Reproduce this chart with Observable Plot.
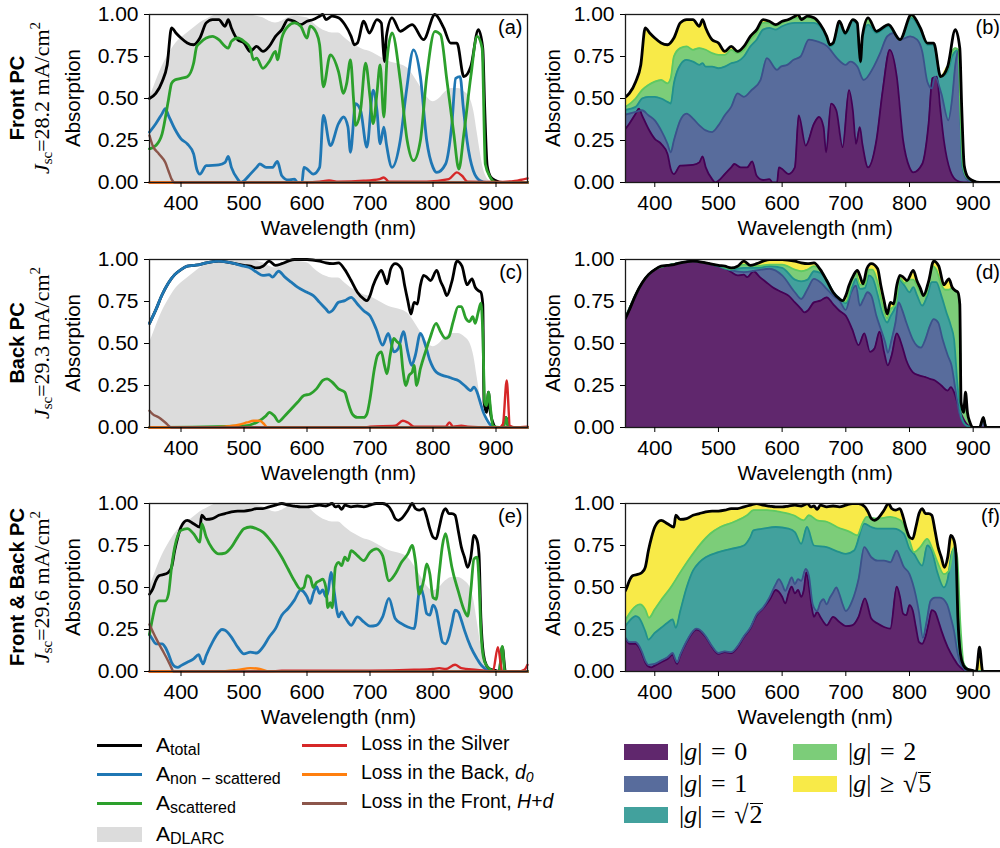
<!DOCTYPE html>
<html><head><meta charset="utf-8">
<script src="https://cdn.jsdelivr.net/npm/d3@7"></script>
<script src="https://cdn.jsdelivr.net/npm/@observablehq/plot@0.6"></script>
<style>
html,body{margin:0;padding:0;background:#fff;overflow:hidden;width:1000px;height:848px;}
#root{position:relative;width:1000px;height:848px;overflow:hidden;font-family:"Liberation Sans",Arial,sans-serif;color:#000;}
.rot{position:absolute;transform:translate(-50%,-50%) rotate(-90deg);white-space:nowrap;line-height:1;}
.serif{font-family:"Liberation Serif","DejaVu Serif",serif;}
.lg{position:absolute;white-space:nowrap;line-height:1;}
.sw{position:absolute;}
.sq{display:inline-block;line-height:0.72em;border-top:1.6px solid #000;padding-top:2px;margin-left:1px;}
.holder svg{max-width:none !important;}
</style></head><body><div id="root"></div><script>
// ---------------- data (wavelength nm, absorption) ----------------
const dlarc = [[350,0.50],[360,0.60],[370,0.69],[380,0.76],[390,0.82],[400,0.86],[410,0.89],[420,0.92],[430,0.95],[440,0.97],[450,0.99],[460,1.0],[500,1.0],[520,0.99],[530,0.98],[540,0.96],[550,0.95],[560,0.96],[570,0.98],[580,0.99],[600,0.98],[610,0.95],[620,0.92],[630,0.90],[640,0.89],[650,0.89],[660,0.86],[670,0.83],[680,0.81],[690,0.79],[700,0.78],[710,0.76],[720,0.74],[730,0.72],[740,0.71],[750,0.70],[760,0.68],[770,0.63],[780,0.57],[790,0.51],[800,0.48],[810,0.50],[820,0.54],[830,0.56],[840,0.56],[850,0.54],[860,0.49],[865,0.42],[870,0.30],[875,0.18],[880,0.08],[885,0.03],[890,0.01],[900,0]];

// Front PC
const aTotal = [[350,0.50],[360,0.53],[370,0.60],[378,0.70],[385,0.92],[392,0.89],[400,0.86],[410,0.83],[420,0.82],[430,0.86],[440,0.95],[450,0.97],[460,0.97],[470,0.93],[475,0.97],[480,0.92],[490,0.85],[500,0.83],[510,0.78],[520,0.81],[530,0.78],[540,0.81],[550,0.87],[560,0.91],[570,0.97],[580,0.96],[590,0.94],[600,0.96],[610,0.97],[620,0.99],[625,1.0],[630,0.97],[640,0.99],[650,0.98],[660,0.94],[670,0.87],[675,0.82],[680,0.83],[690,0.96],[699,0.89],[711,0.97],[718,0.95],[721,0.80],[723,0.72],[726,0.87],[735,0.98],[748,0.90],[767,0.94],[785,0.85],[803,1.0],[817,0.92],[828,0.83],[838,0.83],[849,0.63],[860,0.69],[872,0.91],[879,0.80],[882,0.45],[886,0.10],[892,0.03],[900,0.01],[910,0],[950,0]];
const aNonScat = [[350,0.30],[360,0.35],[370,0.41],[375,0.44],[380,0.40],[390,0.32],[400,0.26],[410,0.23],[420,0.17],[425,0.08],[430,0.05],[440,0.10],[460,0.105],[470,0.12],[475,0.155],[480,0.09],[490,0.02],[495,0.0],[500,0.01],[510,0.05],[520,0.09],[525,0.11],[535,0.09],[545,0.09],[553,0.125],[560,0.04],[570,0.015],[580,0.02],[585,0],[592,0],[595,0.09],[600,0.08],[610,0.05],[620,0.09],[626,0.40],[637,0.22],[650,0.35],[658,0.39],[665,0.33],[669,0.18],[677,0.47],[685,0.43],[695,0.21],[705,0.55],[711,0.43],[716,0.23],[722,0.33],[726,0.23],[735,0.09],[748,0.25],[758,0.55],[769,0.79],[780,0.63],[790,0.25],[800,0.09],[806,0.06],[820,0.11],[830,0.35],[836,0.62],[843,0.63],[848,0.45],[854,0.25],[864,0.07],[875,0.01],[885,0],[950,0]];
const aScat = [[350,0.20],[360,0.22],[370,0.29],[380,0.49],[385,0.59],[390,0.61],[400,0.62],[410,0.63],[420,0.71],[425,0.81],[430,0.83],[440,0.86],[450,0.87],[460,0.85],[470,0.81],[475,0.80],[480,0.84],[490,0.86],[500,0.84],[510,0.80],[515,0.73],[520,0.74],[530,0.68],[540,0.72],[550,0.78],[553,0.73],[560,0.86],[570,0.93],[580,0.95],[590,0.93],[600,0.86],[605,0.93],[615,0.89],[620,0.82],[626,0.57],[637,0.76],[650,0.66],[658,0.53],[663,0.59],[669,0.73],[674,0.49],[677,0.34],[685,0.43],[693,0.71],[700,0.51],[705,0.35],[711,0.53],[716,0.70],[722,0.39],[727,0.73],[735,0.89],[748,0.61],[759,0.25],[769,0.13],[780,0.25],[790,0.63],[803,0.90],[812,0.88],[822,0.61],[833,0.29],[841,0.08],[849,0.29],[860,0.63],[870,0.87],[878,0.80],[883,0.11],[891,0.03],[900,0],[950,0]];
const aSilver = [[350,0],[600,0],[620,0.005],[635,0.012],[650,0.005],[690,0.01],[715,0.02],[722,0.03],[730,0.005],[790,0.005],[825,0.02],[838,0.06],[846,0.04],[855,0.005],[900,0.003],[930,0.01],[950,0.025]];
const aBack = [[350,0],[950,0]];
const aFront = [[350,0.28],[355,0.22],[365,0.17],[375,0.12],[380,0.07],[385,0.02],[390,0],[950,0]];
const bG1 = [[350,0.40],[370,0.42],[380,0.43],[390,0.40],[400,0.37],[410,0.31],[420,0.23],[425,0.18],[430,0.25],[440,0.37],[450,0.41],[460,0.38],[470,0.34],[480,0.31],[490,0.30],[500,0.34],[510,0.40],[520,0.45],[530,0.53],[540,0.51],[552,0.55],[566,0.61],[576,0.74],[592,0.67],[598,0.69],[608,0.70],[618,0.73],[629,0.75],[642,0.85],[655,0.84],[671,0.81],[686,0.74],[700,0.70],[707,0.72],[718,0.69],[728,0.61],[744,0.69],[754,0.77],[765,0.87],[775,0.89],[786,0.85],[801,0.87],[812,0.85],[820,0.78],[828,0.60],[835,0.56],[840,0.63],[850,0.53],[861,0.37],[867,0.50],[872,0.70],[877,0.79],[880,0.40],[883,0.10],[890,0.02],[900,0],[950,0]];
const bG2 = [[350,0.43],[370,0.45],[380,0.50],[390,0.51],[400,0.51],[410,0.50],[420,0.48],[425,0.47],[430,0.59],[440,0.70],[450,0.73],[460,0.72],[470,0.70],[475,0.71],[480,0.69],[490,0.69],[500,0.68],[510,0.69],[520,0.71],[530,0.72],[540,0.75],[550,0.81],[560,0.85],[570,0.91],[580,0.92],[590,0.91],[600,0.93],[620,0.95],[640,0.95],[650,0.95],[660,0.93],[670,0.86],[675,0.81],[680,0.82],[690,0.95],[699,0.88],[711,0.96],[718,0.94],[721,0.79],[723,0.71],[726,0.86],[735,0.94],[748,0.89],[767,0.93],[785,0.85],[803,0.98],[817,0.91],[828,0.82],[838,0.82],[849,0.63],[860,0.66],[867,0.75],[872,0.78],[877,0.79],[880,0.40],[883,0.10],[890,0.03],[900,0.01],[910,0],[950,0]];
const bG3 = [[350,0.44],[370,0.50],[380,0.55],[390,0.58],[400,0.60],[410,0.61],[420,0.59],[425,0.62],[430,0.75],[440,0.80],[450,0.81],[460,0.79],[470,0.80],[480,0.79],[490,0.77],[500,0.76],[510,0.76],[520,0.79],[530,0.77],[540,0.79],[550,0.85],[560,0.89],[570,0.95],[580,0.95],[590,0.93],[600,0.95],[610,0.97],[620,0.98],[640,0.98],[650,0.97],[660,0.94],[670,0.87],[675,0.82],[680,0.83],[690,0.96],[699,0.89],[711,0.97],[718,0.95],[721,0.80],[723,0.72],[726,0.87],[735,0.97],[748,0.90],[767,0.94],[785,0.85],[803,0.99],[817,0.92],[828,0.83],[838,0.83],[849,0.63],[860,0.68],[867,0.78],[872,0.80],[877,0.79],[880,0.42],[884,0.11],[890,0.03],[900,0.01],[910,0],[950,0]];
const bTop = aTotal.filter(([w]) => w < 861 || w > 881);

// Back PC
const cTotal = [[350,0.62],[360,0.70],[370,0.79],[380,0.86],[390,0.91],[400,0.94],[410,0.96],[420,0.965],[430,0.97],[440,0.98],[460,0.99],[480,0.98],[500,0.965],[510,0.96],[520,0.95],[530,0.96],[540,0.99],[550,0.965],[560,0.975],[570,0.99],[580,1.0],[600,1.0],[620,0.99],[630,0.98],[640,0.975],[650,0.98],[660,0.94],[670,0.875],[680,0.805],[690,0.765],[695,0.755],[700,0.785],[705,0.845],[712,0.905],[718,0.935],[722,0.905],[727,0.855],[733,0.945],[740,0.975],[750,0.945],[755,0.845],[760,0.755],[765,0.675],[770,0.745],[775,0.735],[780,0.845],[785,0.905],[790,0.895],[796,0.875],[806,0.935],[812,0.87],[817,0.83],[822,0.785],[830,0.87],[838,0.99],[846,0.96],[854,0.85],[862,0.885],[867,0.835],[872,0.815],[876,0.805],[879,0.735],[881,0.15],[885,0.09],[888,0.21],[891,0.09],[895,0.03],[900,0],[910,0],[916,0.06],[920,0],[950,0]];
const cNonScat = [[350,0.62],[360,0.70],[370,0.79],[380,0.86],[390,0.91],[400,0.94],[410,0.96],[420,0.965],[430,0.97],[440,0.98],[460,0.99],[480,0.98],[500,0.96],[510,0.95],[520,0.925],[530,0.905],[540,0.91],[545,0.895],[555,0.93],[565,0.895],[575,0.865],[585,0.835],[600,0.805],[610,0.785],[620,0.745],[630,0.705],[635,0.685],[640,0.695],[650,0.745],[660,0.755],[670,0.775],[680,0.735],[690,0.695],[700,0.665],[710,0.585],[720,0.49],[729,0.56],[738,0.45],[745,0.47],[753,0.57],[760,0.45],[766,0.37],[772,0.43],[780,0.56],[788,0.49],[795,0.40],[805,0.33],[815,0.31],[825,0.30],[832,0.29],[840,0.28],[850,0.25],[860,0.22],[865,0.24],[870,0.21],[875,0.15],[880,0.09],[885,0.05],[890,0.02],[895,0.005],[900,0],[950,0]];
const cScat = [[350,0],[500,0.01],[520,0.03],[535,0.07],[540,0.09],[548,0.07],[555,0.035],[565,0.07],[575,0.11],[585,0.15],[595,0.19],[605,0.20],[615,0.23],[625,0.28],[632,0.29],[640,0.27],[650,0.23],[660,0.21],[665,0.15],[672,0.08],[680,0.06],[690,0.06],[695,0.08],[700,0.17],[707,0.35],[712,0.43],[718,0.45],[723,0.37],[727,0.32],[732,0.43],[738,0.53],[743,0.51],[748,0.49],[752,0.35],[757,0.25],[762,0.31],[767,0.33],[770,0.37],[774,0.25],[780,0.35],[788,0.45],[795,0.53],[805,0.62],[812,0.57],[820,0.53],[825,0.54],[832,0.63],[840,0.72],[845,0.72],[852,0.65],[858,0.63],[863,0.66],[867,0.62],[872,0.69],[876,0.74],[879,0.57],[882,0.15],[885,0.13],[888,0.21],[892,0.09],[895,0.01],[905,0],[912,0],[916,0.06],[920,0],[950,0]];
const cSilver = [[350,0],[690,0],[700,0.005],[740,0.01],[752,0.04],[760,0.03],[770,0.005],[820,0.005],[826,0.03],[832,0.005],[845,0.01],[855,0.005],[905,0],[911,0.02],[917,0.28],[922,0.01],[930,0],[950,0.005]];
const cBack = [[350,0],[450,0],[470,0.005],[490,0.015],[505,0.03],[515,0.04],[525,0.04],[532,0.02],[537,0],[950,0]];
const cFront = [[350,0.10],[355,0.08],[365,0.06],[375,0.03],[385,0],[950,0]];
const dG1 = [[350,0.62],[370,0.79],[380,0.86],[400,0.94],[420,0.965],[440,0.98],[460,0.99],[480,0.98],[500,0.96],[520,0.935],[540,0.925],[560,0.935],[580,0.945],[600,0.905],[620,0.805],[630,0.765],[640,0.825],[650,0.885],[660,0.865],[670,0.825],[680,0.785],[690,0.755],[700,0.70],[708,0.80],[716,0.845],[722,0.725],[728,0.765],[734,0.805],[740,0.785],[748,0.665],[755,0.585],[762,0.505],[766,0.445],[772,0.525],[778,0.625],[783,0.745],[788,0.705],[795,0.625],[805,0.525],[812,0.485],[818,0.475],[825,0.525],[832,0.605],[838,0.645],[845,0.625],[852,0.525],[860,0.43],[866,0.37],[872,0.23],[878,0.09],[884,0.03],[890,0.01],[900,0],[910,0],[916,0.055],[921,0],[950,0]];
const dG2 = [[350,0.62],[370,0.79],[380,0.86],[400,0.94],[420,0.965],[440,0.98],[460,0.99],[480,0.98],[500,0.96],[520,0.94],[540,0.95],[560,0.95],[580,0.96],[600,0.95],[620,0.88],[630,0.87],[640,0.88],[650,0.93],[660,0.92],[670,0.88],[680,0.81],[690,0.77],[700,0.74],[710,0.835],[716,0.885],[722,0.825],[730,0.83],[736,0.905],[742,0.89],[750,0.79],[757,0.685],[765,0.625],[770,0.66],[778,0.725],[785,0.875],[792,0.845],[800,0.805],[806,0.835],[812,0.785],[820,0.725],[828,0.785],[835,0.865],[842,0.865],[850,0.785],[858,0.685],[865,0.605],[870,0.525],[875,0.27],[880,0.09],[885,0.03],[890,0.01],[900,0],[910,0],[916,0.055],[921,0],[950,0]];
const dG3 = [[350,0.62],[370,0.79],[380,0.86],[400,0.94],[420,0.965],[440,0.98],[460,0.99],[480,0.98],[500,0.965],[520,0.945],[540,0.97],[560,0.96],[580,0.97],[600,0.97],[620,0.94],[630,0.93],[640,0.94],[650,0.96],[660,0.94],[670,0.875],[680,0.805],[690,0.765],[700,0.75],[710,0.88],[716,0.92],[722,0.85],[730,0.85],[736,0.94],[742,0.94],[750,0.86],[757,0.74],[765,0.65],[770,0.70],[778,0.73],[785,0.89],[792,0.86],[800,0.88],[806,0.88],[812,0.84],[818,0.80],[825,0.78],[830,0.85],[836,0.96],[842,0.94],[850,0.85],[856,0.82],[862,0.82],[867,0.83],[872,0.81],[876,0.80],[879,0.73],[881,0.15],[885,0.09],[888,0.2],[891,0.08],[895,0.02],[900,0],[910,0],[916,0.055],[921,0],[950,0]];

// Front & Back PC
const eTotal = [[350,0.46],[355,0.49],[360,0.54],[365,0.57],[375,0.58],[380,0.59],[385,0.62],[390,0.72],[395,0.80],[400,0.86],[405,0.89],[410,0.90],[420,0.88],[430,0.86],[433,0.93],[440,0.905],[450,0.91],[460,0.93],[470,0.94],[480,0.95],[490,0.955],[500,0.955],[510,0.96],[520,0.97],[530,0.97],[540,0.98],[550,0.99],[560,1.0],[570,0.99],[580,0.985],[590,0.98],[600,0.98],[610,0.985],[620,0.99],[630,0.985],[640,1.0],[645,0.98],[650,0.985],[655,0.965],[660,0.99],[670,0.98],[680,0.985],[690,0.98],[700,0.99],[710,1.0],[720,1.0],[730,0.98],[735,0.95],[740,0.91],[745,0.90],[750,0.91],[760,0.96],[767,1.0],[772,0.97],[778,0.96],[785,0.97],[790,0.92],[795,0.85],[800,0.80],[805,0.79],[810,0.86],[815,0.94],[820,0.97],[825,0.94],[830,0.94],[835,0.93],[840,0.84],[845,0.74],[850,0.68],[855,0.62],[860,0.68],[865,0.81],[870,0.78],[873,0.70],[876,0.32],[880,0.105],[885,0.035],[890,0.015],[900,0.005],[905,0],[910,0.145],[915,0],[950,0]];
const eNonScat = [[350,0.22],[355,0.19],[360,0.165],[370,0.165],[375,0.145],[380,0.105],[385,0.055],[390,0.03],[395,0.025],[400,0.035],[410,0.055],[420,0.075],[428,0.10],[432,0.065],[435,0.045],[440,0.095],[450,0.175],[460,0.235],[465,0.25],[470,0.245],[480,0.205],[490,0.145],[500,0.105],[510,0.115],[520,0.11],[530,0.145],[540,0.205],[550,0.255],[560,0.335],[570,0.375],[580,0.425],[590,0.485],[600,0.445],[605,0.405],[610,0.465],[615,0.505],[620,0.465],[625,0.485],[630,0.445],[634,0.485],[638,0.59],[643,0.48],[647,0.37],[650,0.325],[655,0.355],[660,0.325],[665,0.295],[670,0.275],[680,0.325],[690,0.295],[700,0.27],[710,0.275],[720,0.325],[730,0.435],[740,0.315],[750,0.285],[760,0.265],[770,0.255],[780,0.505],[785,0.445],[790,0.345],[795,0.335],[800,0.395],[805,0.365],[810,0.265],[815,0.175],[820,0.165],[825,0.205],[830,0.285],[835,0.365],[840,0.355],[845,0.305],[850,0.245],[860,0.145],[870,0.075],[875,0.045],[880,0.025],[885,0.01],[890,0],[950,0]];
const eScat = [[350,0.22],[355,0.32],[360,0.40],[365,0.42],[375,0.42],[380,0.46],[385,0.62],[390,0.74],[395,0.81],[400,0.84],[410,0.85],[420,0.82],[430,0.77],[433,0.88],[440,0.80],[450,0.73],[460,0.70],[470,0.705],[480,0.74],[490,0.80],[500,0.85],[510,0.86],[520,0.85],[530,0.83],[540,0.79],[550,0.74],[560,0.68],[570,0.61],[580,0.54],[590,0.49],[595,0.50],[600,0.57],[605,0.56],[610,0.50],[615,0.53],[620,0.54],[625,0.55],[630,0.50],[633,0.38],[637,0.41],[640,0.38],[645,0.62],[650,0.65],[655,0.63],[660,0.68],[665,0.66],[670,0.72],[680,0.69],[690,0.66],[700,0.71],[710,0.73],[720,0.69],[730,0.54],[740,0.58],[750,0.65],[760,0.70],[767,0.75],[772,0.66],[778,0.46],[785,0.54],[790,0.64],[795,0.58],[800,0.44],[805,0.43],[810,0.59],[815,0.75],[820,0.82],[825,0.73],[830,0.62],[840,0.48],[850,0.36],[855,0.33],[860,0.48],[865,0.67],[870,0.68],[873,0.54],[876,0.245],[880,0.085],[885,0.035],[890,0.015],[900,0],[905,0],[910,0.15],[914,0],[950,0]];
const eSilver = [[350,0],[540,0],[560,0.005],[700,0.005],[770,0.01],[800,0.015],[810,0.02],[820,0.015],[835,0.04],[845,0.02],[870,0.01],[895,0],[903,0.145],[910,0],[935,0],[945,0.01],[950,0.04]];
const eBack = [[350,0],[460,0],[490,0.01],[510,0.02],[525,0.015],[540,0],[950,0]];
const eFront = [[350,0.28],[355,0.24],[360,0.20],[370,0.13],[380,0.06],[385,0.02],[388,0],[950,0]];
const fG1 = [[350,0.23],[360,0.175],[370,0.175],[375,0.155],[380,0.115],[385,0.065],[390,0.04],[400,0.045],[410,0.065],[420,0.085],[428,0.11],[432,0.075],[435,0.055],[440,0.10],[450,0.18],[460,0.24],[465,0.255],[470,0.25],[480,0.21],[490,0.15],[500,0.11],[510,0.12],[520,0.115],[530,0.15],[540,0.21],[550,0.26],[560,0.34],[570,0.38],[580,0.44],[590,0.52],[595,0.55],[600,0.52],[605,0.48],[610,0.52],[615,0.56],[620,0.52],[625,0.55],[630,0.54],[637,0.61],[642,0.57],[648,0.40],[655,0.36],[660,0.41],[665,0.43],[670,0.40],[675,0.44],[680,0.47],[685,0.50],[690,0.46],[695,0.40],[700,0.36],[710,0.42],[720,0.55],[729,0.74],[740,0.68],[750,0.66],[760,0.66],[770,0.65],[780,0.72],[785,0.68],[790,0.63],[800,0.58],[810,0.45],[815,0.35],[821,0.20],[827,0.30],[833,0.42],[840,0.44],[848,0.44],[859,0.40],[865,0.32],[870,0.24],[875,0.12],[880,0.05],[885,0.02],[890,0],[950,0]];
const fG2 = [[350,0.25],[360,0.30],[370,0.33],[375,0.32],[385,0.24],[390,0.19],[400,0.23],[410,0.26],[420,0.29],[428,0.31],[433,0.26],[440,0.36],[450,0.50],[460,0.60],[470,0.65],[480,0.68],[500,0.71],[520,0.73],[540,0.75],[550,0.80],[555,0.84],[570,0.85],[590,0.86],[610,0.85],[620,0.83],[630,0.76],[639,0.86],[650,0.75],[670,0.74],[690,0.71],[700,0.70],[713,0.72],[729,0.88],[740,0.86],[750,0.85],[775,0.85],[791,0.82],[800,0.73],[807,0.70],[820,0.63],[828,0.75],[835,0.72],[843,0.60],[854,0.50],[860,0.55],[866,0.70],[870,0.73],[874,0.60],[878,0.25],[882,0.06],[890,0.02],[900,0],[950,0]];
const fG3 = [[350,0.28],[377,0.40],[385,0.37],[391,0.32],[400,0.37],[409,0.42],[425,0.50],[440,0.59],[456,0.68],[472,0.76],[487,0.82],[503,0.86],[524,0.89],[545,0.93],[555,0.96],[576,0.96],[597,0.95],[618,0.93],[634,0.90],[642,0.93],[655,0.90],[671,0.89],[686,0.86],[707,0.83],[718,0.81],[726,0.88],[733,0.92],[749,0.91],[770,0.92],[786,0.90],[800,0.78],[807,0.71],[817,0.74],[828,0.79],[836,0.73],[843,0.66],[854,0.58],[862,0.60],[870,0.74],[875,0.68],[880,0.28],[885,0.05],[890,0.02],[900,0],[950,0]];

const xTicks = [400, 500, 600, 700, 800, 900];
const yTicks = [0, 0.25, 0.5, 0.75, 1];
const panelLetters = ["(a)", "(b)", "(c)", "(d)", "(e)", "(f)"];
const rowTitles = ["Front PC", "Back PC", "Front &amp; Back PC"];
const jscValues = ["28.2", "29.3", "29.6"];

// ---------------- styling ----------------
const FONT = '"Liberation Sans", Arial, sans-serif';
const lineColors = {total: "#000000", non: "#1f77b4", scat: "#2ca02c", silver: "#d62728", back: "#ff7f0e", front: "#8c564b"};
const layerFill = ["#60276d", "#586c9c", "#42a19d", "#7ccd79", "#f8ea48"];
const layerEdge = ["#440154", "#3b528b", "#21918c", "#5ec962"];
const X = d => d[0], Y = d => d[1];
const CURVE = "monotone-x";
const root = document.getElementById("root");

function frameMarks(letter) {
  return [
    Plot.frame({stroke: "#1a1a1a", strokeWidth: 1.3}),
    Plot.axisX({ticks: xTicks, tickSize: 5, tickPadding: 8, label: null, fontSize: 21, tickFormat: d => String(d)}),
    Plot.axisY({ticks: yTicks, tickSize: 5, tickPadding: 6, label: null, fontSize: 21, tickFormat: d3.format(".2f")}),
    Plot.text([letter], {frameAnchor: "top-right", dx: -5, dy: 5, lineAnchor: "top", fontSize: 20}),
    Plot.text(["Wavelength (nm)"], {frameAnchor: "bottom", dy: 46, lineAnchor: "middle", fontSize: 20.5})
  ];
}

function makePlot(width, marginLeft, marginRight, domain, marks) {
  return Plot.plot({
    width, height: 244, marginTop: 14, marginBottom: 62, marginLeft, marginRight,
    x: {domain}, y: {domain: [0, 1]},
    style: {fontFamily: FONT, fontSize: "21px", color: "#000", background: "transparent", overflow: "visible", maxWidth: "none"},
    marks
  });
}

function leftPanel(s, letter) {
  const w = 2.8, wl = 2.4;
  return makePlot(540, 149, 13, [350, 950], [
    Plot.areaY(dlarc, {x: X, y: Y, fill: "#dcdcdc", curve: CURVE}),
    Plot.line(s.total, {x: X, y: Y, stroke: lineColors.total, strokeWidth: w, curve: CURVE}),
    Plot.line(s.non, {x: X, y: Y, stroke: lineColors.non, strokeWidth: w, curve: CURVE}),
    Plot.line(s.scat, {x: X, y: Y, stroke: lineColors.scat, strokeWidth: w, curve: CURVE}),
    Plot.line(s.silver, {x: X, y: Y, stroke: lineColors.silver, strokeWidth: wl, curve: CURVE}),
    Plot.line(s.back, {x: X, y: Y, stroke: lineColors.back, strokeWidth: wl, curve: CURVE}),
    Plot.line(s.front, {x: X, y: Y, stroke: lineColors.front, strokeWidth: wl, curve: CURVE}),
    ...frameMarks(letter)
  ]);
}

function rightPanel(p, letter) {
  const stackTops = [p.g0, p.g1, p.g2, p.g3, p.top];
  const areas = [];
  for (let i = 4; i >= 0; i--) areas.push(Plot.areaY(stackTops[i], {x: X, y: Y, fill: layerFill[i], curve: CURVE, clip: true}));
  const edges = [0, 1, 2, 3].map(i => Plot.line(stackTops[i], {x: X, y: Y, stroke: layerEdge[i], strokeWidth: 1.8, curve: CURVE, clip: true}));
  return makePlot(470, 85, 5.5, [354, 950], [
    ...areas, ...edges,
    Plot.line(p.total, {x: X, y: Y, stroke: "#000", strokeWidth: 2.8, curve: CURVE, clip: true}),
    ...frameMarks(letter)
  ]);
}

function place(el, left, top, width) {
  const d = document.createElement("div");
  d.className = "holder";
  d.style.position = "absolute"; d.style.left = left + "px"; d.style.top = top + "px";
  d.style.width = width + "px"; d.style.height = "244px";
  d.appendChild(el); root.appendChild(d);
}
function html(str) { const t = document.createElement("template"); t.innerHTML = str.trim(); return t.content.firstChild; }

const rowTops = [0, 245, 489.3];
const leftSets = [
  {total: aTotal, non: aNonScat, scat: aScat, silver: aSilver, back: aBack, front: aFront},
  {total: cTotal, non: cNonScat, scat: cScat, silver: cSilver, back: cBack, front: cFront},
  {total: eTotal, non: eNonScat, scat: eScat, silver: eSilver, back: eBack, front: eFront}
];
const rightSets = [
  {g0: aNonScat, g1: bG1, g2: bG2, g3: bG3, top: bTop, total: aTotal},
  {g0: cNonScat, g1: dG1, g2: dG2, g3: dG3, top: cTotal, total: cTotal},
  {g0: eNonScat, g1: fG1, g2: fG2, g3: fG3, top: eTotal, total: eTotal}
];

for (let r = 0; r < 3; r++) {
  place(leftPanel(leftSets[r], panelLetters[2 * r]), 0, rowTops[r], 540);
  place(rightPanel(rightSets[r], panelLetters[2 * r + 1]), 540, rowTops[r], 470);
  const cy = rowTops[r] + 14 + 84;
  root.appendChild(html(`<div class="rot" style="left:17px;top:${cy}px;font-weight:bold;font-size:20px">${rowTitles[r]}</div>`));
  root.appendChild(html(`<div class="rot serif" style="left:41px;top:${cy}px;font-size:22px"><i>J</i><sub style="font-size:15px;vertical-align:-3px">sc</sub>=${jscValues[r]} mA/cm<sup style="font-size:15px;vertical-align:9px">2</sup></div>`));
  root.appendChild(html(`<div class="rot" style="left:73px;top:${cy}px;font-size:20.5px">Absorption</div>`));
  root.appendChild(html(`<div class="rot" style="left:553px;top:${cy}px;font-size:20.5px">Absorption</div>`));
}

// ---------------- legends ----------------
const legendLineLabels = [
  {c: lineColors.total, x: 97, y: 745, t: 'A<sub>total</sub>'},
  {c: lineColors.non, x: 97, y: 774, t: 'A<sub>non − scattered</sub>'},
  {c: lineColors.scat, x: 97, y: 803, t: 'A<sub>scattered</sub>'},
  {c: lineColors.silver, x: 302, y: 745, t: 'Loss in the Silver'},
  {c: lineColors.back, x: 302, y: 774, t: 'Loss in the Back, <i>d<sub>0</sub></i>'},
  {c: lineColors.front, x: 302, y: 803, t: 'Loss in the Front, <i>H</i>+<i>d</i>'}
];
const style = document.createElement("style");
style.textContent = `.lgA{font-size:21px}.lgA sub{font-size:16px;vertical-align:-3px}.lgL{font-size:19.5px}.lgL sub{font-size:14px;vertical-align:-3px}`;
document.head.appendChild(style);
legendLineLabels.forEach((e, i) => {
  root.appendChild(html(`<div class="sw" style="left:${e.x}px;top:${e.y - 1.5}px;width:45px;height:3px;background:${e.c}"></div>`));
  const cls = i < 3 ? "lgA" : "lgL";
  root.appendChild(html(`<div class="lg ${cls}" style="left:${e.x + 59}px;top:${e.y - 11}px">${e.t}</div>`));
});
root.appendChild(html(`<div class="sw" style="left:97px;top:827px;width:45px;height:15px;background:#dcdcdc"></div>`));
root.appendChild(html(`<div class="lg lgA" style="left:156px;top:823px">A<sub>DLARC</sub></div>`));

const gLegend = [
  {x: 624, y: 744, t: '|<i>g</i>|<span class="eq">=</span>0'},
  {x: 624, y: 776, t: '|<i>g</i>|<span class="eq">=</span>1'},
  {x: 624, y: 807, t: '|<i>g</i>|<span class="eq">=</span>√<span class="sq">2</span>'},
  {x: 793, y: 744, t: '|<i>g</i>|<span class="eq">=</span>2'},
  {x: 793, y: 776, t: '|<i>g</i>|<span class="eq">≥</span>√<span class="sq">5</span>'}
];
const style2 = document.createElement("style");
style2.textContent = `.gl{font-family:"Liberation Serif","DejaVu Serif",serif;font-size:26px}.gl .eq{padding:0 0.33em}`;
document.head.appendChild(style2);
gLegend.forEach((e, i) => {
  root.appendChild(html(`<div class="sw" style="left:${e.x}px;top:${e.y}px;width:44px;height:16px;background:${layerFill[i]}"></div>`));
  root.appendChild(html(`<div class="lg gl" style="left:${e.x + 55}px;top:${e.y - 5}px">${e.t}</div>`));
});
</script></body></html>
